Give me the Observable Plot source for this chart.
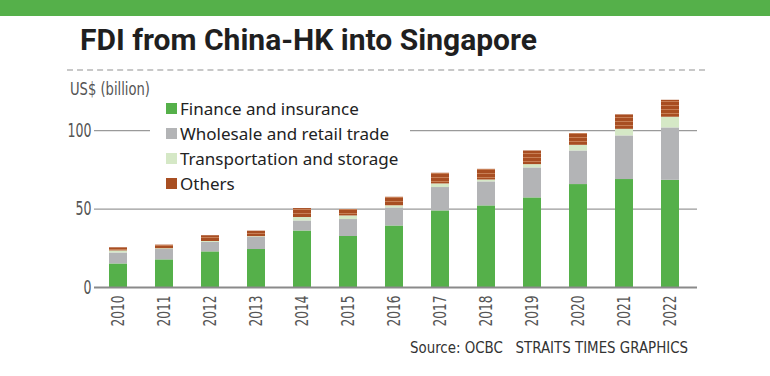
<!DOCTYPE html>
<html>
<head>
<meta charset="utf-8">
<script src="https://cdn.jsdelivr.net/npm/d3@7"></script>
<script src="https://cdn.jsdelivr.net/npm/@observablehq/plot@0.6"></script>
<style>
  html, body { margin: 0; padding: 0; background: #fff; }
  #page { position: relative; width: 770px; height: 376px; overflow: hidden; background: #fff; }
  #topbar { position: absolute; left: 0; top: 0; width: 770px; height: 16px; background: #55b04a; }
  #title { position: absolute; left: 80px; top: 22px; font-family: Roboto, "Liberation Sans", sans-serif; font-weight: 700; font-size: 30px; line-height: 36px; color: #1f1f1f; white-space: nowrap; transform-origin: 0 0; }
  #dots { position: absolute; left: 67px; top: 69px; width: 638px; height: 0; border-top: 2px dashed #c8c8c8; }
  #unit { position: absolute; left: 70px; top: 79px; font-family: "Liberation Sans Narrow", "DejaVu Sans Condensed", sans-serif; font-size: 17px; line-height: 20px; color: #555; white-space: nowrap; transform-origin: 0 0; }
  #chart { position: absolute; left: 0; top: 80px; }
  #legend { position: absolute; left: 150px; top: 96px; width: 260px; background: #fff; font-family: "Noto Sans", sans-serif; font-size: 17px; color: #222; }
  .row { position: relative; height: 25px; line-height: 25px; padding-left: 30px; white-space: nowrap; }
  .sw { position: absolute; left: 16px; top: 7px; width: 11px; height: 11px; }
  #caption { position: absolute; left: 410px; top: 338px; font-family: "Liberation Sans Narrow", "DejaVu Sans Condensed", sans-serif; font-size: 15px; line-height: 20px; color: #333; white-space: pre; transform-origin: 0 0; }
</style>
</head>
<body>
<div id="page">
  <div id="topbar"></div>
  <div id="title">FDI from China-HK into Singapore</div>
  <div id="dots"></div>
  <div id="unit">US$ (billion)</div>
  <div id="chart"></div>
  <div id="legend"></div>
  <div id="caption">Source: OCBC   STRAITS TIMES GRAPHICS</div>
</div>
<script>
// ---- data ----
const years = ["2010","2011","2012","2013","2014","2015","2016","2017","2018","2019","2020","2021","2022"];
const seriesNames = ["Finance and insurance", "Wholesale and retail trade", "Transportation and storage", "Others"];
const finance   = [15.0, 17.6, 22.7, 24.2, 36.0, 32.5, 39.2, 48.8, 52.0, 57.1, 65.6, 68.8, 68.3];
const wholesale = [7.0, 6.6, 6.0, 7.8, 6.4, 10.8, 11.5, 14.9, 15.3, 19.1, 21.4, 27.8, 33.4];
const transport = [1.3, 0.5, 0.6, 0.4, 2.2, 2.3, 1.3, 2.3, 1.2, 2.1, 3.6, 4.2, 6.8];
const others    = [2.0, 2.3, 3.7, 3.5, 5.7, 4.1, 5.5, 6.8, 6.8, 8.7, 7.5, 9.2, 10.8];
const yTicks = [0, 50, 100];
const colors = ["#55b04a", "#b3b4b6", "#d5e8c6", "#a84e22"];
const fills  = ["#55b04a", "#b3b4b6", "#d5e8c6", "url(#othersStripes)"];

const valueLists = [finance, wholesale, transport, others];
const rows = [];
years.forEach((yr, i) => {
  seriesNames.forEach((s, k) => rows.push({year: yr, series: s, value: valueLists[k][i]}));
});

const tickFont = '"Liberation Sans Narrow", "DejaVu Sans Condensed", sans-serif';

const chart = Plot.plot({
  width: 770,
  height: 262,
  marginLeft: 94,
  marginRight: 73,
  marginTop: 3,
  marginBottom: 55,
  style: { fontFamily: tickFont, fontSize: "17px", color: "#555", background: "transparent" },
  x: { domain: years, paddingInner: 0.609, paddingOuter: 0.3585, align: 0.464, label: null },
  y: { domain: [0, 130], label: null },
  color: { domain: seriesNames, range: fills },
  marks: [
    Plot.ruleY([50, 100], { stroke: "#9a9a9a", strokeWidth: 1.3 }),
    Plot.barY(rows, Plot.stackY({ x: "year", y: "value", fill: "series", order: seriesNames })),
    Plot.ruleY([0], { stroke: "#8a8a8a", strokeWidth: 2.2 }),
    Plot.axisY(yTicks, { tickSize: 0, tickPadding: 3, fill: "#555", fontSize: 19 }),
    Plot.axisX({ tickSize: 0, tickPadding: 8, tickRotate: -90, fill: "#555", fontSize: 18 })
  ]
});

// stripes pattern for "Others"
const NS = "http://www.w3.org/2000/svg";
const defs = document.createElementNS(NS, "defs");
const pat = document.createElementNS(NS, "pattern");
pat.setAttribute("id", "othersStripes");
pat.setAttribute("patternUnits", "userSpaceOnUse");
pat.setAttribute("width", "8");
pat.setAttribute("height", "4");
const r1 = document.createElementNS(NS, "rect");
r1.setAttribute("width", "8"); r1.setAttribute("height", "4"); r1.setAttribute("fill", "#a84e22");
const r2 = document.createElementNS(NS, "rect");
r2.setAttribute("y", "1"); r2.setAttribute("width", "8"); r2.setAttribute("height", "0.8"); r2.setAttribute("fill", "#cf8b63");
pat.appendChild(r1); pat.appendChild(r2); defs.appendChild(pat);
chart.insertBefore(defs, chart.firstChild);

document.getElementById("chart").appendChild(chart);

// condense tick label glyphs to match the narrow typeface of the reference
chart.querySelectorAll("text").forEach(t => {
  const targets = t.querySelectorAll("tspan").length ? t.querySelectorAll("tspan") : [t];
  targets.forEach(el => {
    const len = el.getComputedTextLength();
    const factor = el.textContent.trim().length === 4 ? 0.75 : 0.735;
    if (len > 0) {
      el.setAttribute("textLength", (len * factor).toFixed(1));
      el.setAttribute("lengthAdjust", "spacingAndGlyphs");
    }
  });
});

// legend
const legend = document.getElementById("legend");
seriesNames.forEach((s, k) => {
  const row = document.createElement("div");
  row.className = "row";
  const sw = document.createElement("span");
  sw.className = "sw";
  sw.style.background = colors[k];
  row.appendChild(sw);
  row.appendChild(document.createTextNode(s));
  legend.appendChild(row);
});

// fit text widths to the reference
function fit(id, w) {
  const el = document.getElementById(id);
  const cur = el.getBoundingClientRect().width;
  if (cur > 0) el.style.transform = `scaleX(${w / cur})`;
}
fit("title", 457);
fit("caption", 278);
fit("unit", 80);
</script>
</body>
</html>
